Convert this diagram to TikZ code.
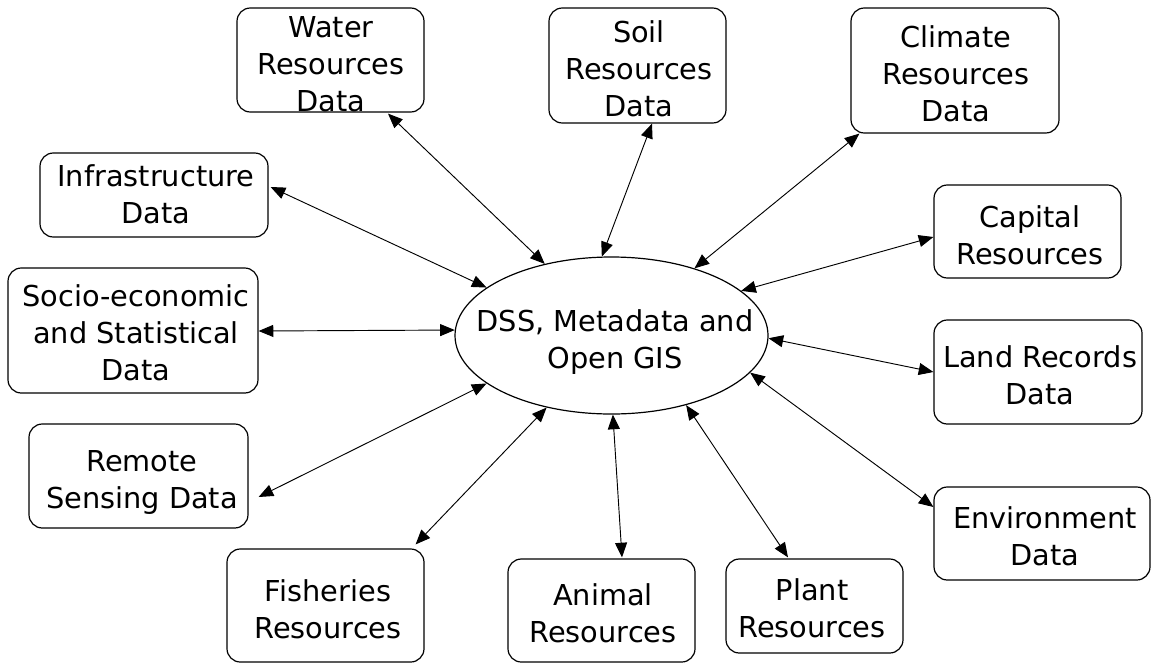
\documentclass[tikz,border=0pt]{standalone}
\usepackage{fontspec}
\setmainfont{DejaVu Sans}
\usetikzlibrary{arrows.meta,shapes.geometric,fit,calc}
\begin{document}
\begin{tikzpicture}[x=0.75pt,y=-0.75pt,
  box/.style={draw,line width=0.9pt,rounded corners=10pt,inner sep=0pt},
  lbl/.style={align=center,inner sep=0pt,font=\fontsize{21.6pt}{27.75pt}\selectfont},
  hubshape/.style={draw,ellipse,line width=0.9pt,inner sep=0pt,
    minimum width=234.75pt,minimum height=117.75pt},
  link/.style={line width=0.7pt,{Triangle[length=11pt,width=9pt]}-{Triangle[length=11pt,width=9pt]}}]
\useasboundingbox (0,0) rectangle (1151,664);
\fill[white] (0,0) rectangle (1151,664);

% central hub
\node[hubshape] (hub) at (611.5,335.5) {};
\node[lbl] (hubT) at (615,342.6) {\strut DSS, Metadata and\\\strut Open GIS};

% surrounding data sources
\node[box,fit={(237,8) (424,112)}] (water) {};
\node[lbl] (waterT) at (331,67.1) {\strut Water\\\strut Resources\\\strut Data};
\node[box,fit={(549,8) (726,123)}] (soil) {};
\node[lbl] (soilT) at (639,72.1) {\strut Soil\\\strut Resources\\\strut Data};
\node[box,fit={(851,8) (1059,133)}] (climate) {};
\node[lbl] (climateT) at (956,77.1) {\strut Climate\\\strut Resources\\\strut Data};
\node[box,fit={(934,185) (1121,278)}] (capital) {};
\node[lbl] (capitalT) at (1030,238.1) {\strut Capital\\\strut Resources};
\node[box,fit={(934,320) (1142,424)}] (land) {};
\node[lbl] (landT) at (1040,378.6) {\strut Land Records\\\strut Data};
\node[box,fit={(934,487) (1150,580)}] (env) {};
\node[lbl] (envT) at (1045,539.6) {\strut Environment\\\strut Data};
\node[box,fit={(726,559) (903,653)}] (plant) {};
\node[lbl] (plantT) at (812,611.1) {\strut Plant\\\strut Resources};
\node[box,fit={(508,559) (695,662)}] (animal) {};
\node[lbl] (animalT) at (603,616.1) {\strut Animal\\\strut Resources};
\node[box,fit={(227,549) (424,662)}] (fish) {};
\node[lbl] (fishT) at (328,612.1) {\strut Fisheries\\\strut Resources};
\node[box,fit={(29,424) (248,528)}] (remote) {};
\node[lbl] (remoteT) at (142,482.1) {\strut Remote\\\strut Sensing Data};
\node[box,fit={(8,268) (258,393)}] (socio) {};
\node[lbl] (socioT) at (136,336.1) {\strut Socio-economic\\\strut and Statistical\\\strut Data};
\node[box,fit={(40,153) (268,237)}] (infra) {};
\node[lbl] (infraT) at (156,197.1) {\strut Infrastructure\\\strut Data};

% two-way links between hub and sources
\draw[link] (hub.133) -- ($(water.south)+(57.5,1)$);
\draw[link] (hub.97) -- ($(soil.south)+(14.5,0)$);
\draw[link] (hub.39) -- ($(climate.south west)+(9,0)$);
\draw[link] (hub.19.2) -- ($(capital.west)+(0,5.5)$);
\draw[link] (hub.-1.6) -- (land.west);
\draw[link] (hub.-15.4) -- ($(env.west)+(0,-26.5)$);
\draw[link] (hub.-43.4) -- ($(plant.north)+(-26.5,-1)$);
\draw[link] (hub.-89.6) -- ($(animal.north)+(20.5,-1)$);
\draw[link] (hub.-132.4) -- ($(fish.north east)+(-9,-4)$);
\draw[link] (hub.-159.4) -- ($(remote.east)+(10,21)$);
\draw[link] (hub.178) -- ($(socio.east)+(0,0.5)$);
\draw[link] (hub.159.3) -- ($(infra.east)+(2,-8)$);
\end{tikzpicture}
\end{document}
